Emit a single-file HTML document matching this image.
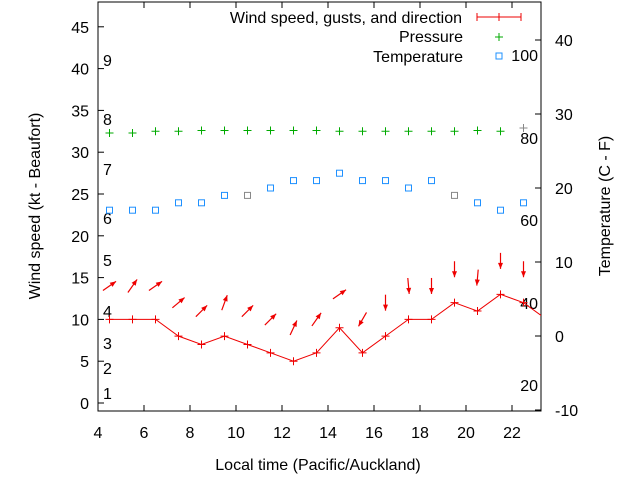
<!DOCTYPE html>
<html><head><meta charset="utf-8"><style>body{margin:0;background:#fff}svg{display:block;font-family:"Liberation Sans",sans-serif}</style></head>
<body>
<svg id="c" width="640" height="480" xmlns="http://www.w3.org/2000/svg"></svg>
<script>
const hours=[4.5,5.5,6.5,7.5,8.5,9.5,10.5,11.5,12.5,13.5,14.5,15.5,16.5,17.5,18.5,19.5,20.5,21.5,22.5,23.5];
const windKt=[10,10,10,8,7,8,7,6,5,6,9,6,8,10,10,12,11,13,12,10];
const gustKt=[14,14,14,12,11,12,11,10,9,10,13,10,12,14,14,16,15,17,16];
const heading=[55,35,55,50,45,20,45,45,25,35,55,210,180,175,180,180,185,180,180];
const tempC=[17,17,17,18,18,19,19,20,21,21,22,21,21,20,21,19,18,17,18];
const tempGray=[0,0,0,0,0,0,1,0,0,0,0,0,0,0,0,1,0,0,0];
const pressure=[32.3,32.3,32.5,32.5,32.6,32.6,32.6,32.6,32.6,32.6,32.5,32.5,32.5,32.5,32.5,32.5,32.6,32.5,32.9];
const pressGray=[0,0,0,0,0,0,0,0,0,0,0,0,0,0,0,0,0,0,1];
const xTicks=[4,6,8,10,12,14,16,18,20,22];
const yTicks=[0,5,10,15,20,25,30,35,40,45];
const y2Ticks=[-10,0,10,20,30,40];
const beaufort=[[1,393],[2,368],[3,343],[4,311],[5,260],[6,218],[7,169],[8,119],[9,60]];
const fahr=[[20,385],[40,303],[60,220],[80,138],[100,55]];
const L=98,R=541,T=2,B=411;
const X=h=>98+(h-4)*23, Y=v=>403-v*8.36, Y2=c=>336-c*7.4;
const s=document.getElementById('c');const NS='http://www.w3.org/2000/svg';
function el(t,a,p){const e=document.createElementNS(NS,t);for(const k in a)e.setAttribute(k,a[k]);(p||s).appendChild(e);return e;}
function tx(x,y,str,anchor,name,extra){const e=el('text',Object.assign({x:x,y:y,'font-size':16,fill:'#000','text-anchor':anchor||'start'},extra||{}));e.textContent=str;return e;}
const cp=el('clipPath',{id:'cp'});el('rect',{x:L,y:T,width:R-L,height:B-T},cp);
const frame=el('rect',{x:L,y:T,width:R-L,height:B-T,fill:'none',stroke:'#000'});

xTicks.forEach(v=>{const x=X(v);el('line',{x1:x,y1:B,x2:x,y2:B-6,stroke:'#000'});el('line',{x1:x,y1:T,x2:x,y2:T+6,stroke:'#000'});tx(x,438,String(v),'middle','x-tick-label');});
yTicks.forEach(v=>{const y=Y(v);el('line',{x1:L,y1:y,x2:L+6,y2:y,stroke:'#000'});tx(89,y+6,String(v),'end','y-tick-label');});
y2Ticks.forEach(v=>{const y=Y2(v);el('line',{x1:R,y1:y,x2:R-6,y2:y,stroke:'#000'});tx(555,y+6,String(v),'start','y2-tick-label');});
beaufort.forEach(b=>tx(103,b[1]+6,String(b[0]),'start','beaufort-label'));
fahr.forEach(f=>tx(538,f[1]+6,String(f[0]),'end','fahrenheit-label'));
tx(318,470,'Local time (Pacific/Auckland)','middle','x-axis-title');
tx(0,0,'Wind speed (kt - Beaufort)','middle','y-axis-title',{transform:'translate(40,206) rotate(-90)'});
tx(0,0,'Temperature (C - F)','middle','y2-axis-title',{transform:'translate(610,206) rotate(-90)'});
const g=el('g',{'clip-path':'url(#cp)'});
const pl=el('polyline',{points:hours.map((h,i)=>X(h)+','+Y(windKt[i])).join(' '),fill:'none',stroke:'#e00',"stroke-width":1},g);

hours.forEach((h,i)=>{const x=X(h),y=Y(windKt[i]);const p=el('path',{d:`M${x-4},${y}h8M${x},${y-4}v8`,stroke:'#e00'},g);});
gustKt.forEach((v,i)=>{const cx=X(hours[i]),cy=Y(v),a=heading[i]*Math.PI/180,dx=Math.sin(a),dy=-Math.cos(a),l=8;
const x1=cx-dx*l,y1=cy-dy*l,x2=cx+dx*l,y2=cy+dy*l;const px=-dy,py=dx;
const ar=el('g',{},g);
el('line',{x1:x1,y1:y1,x2:x2,y2:y2,stroke:'#e00','stroke-width':1.2},ar);
el('polygon',{points:`${x2},${y2} ${x2-dx*6+px*2.5},${y2-dy*6+py*2.5} ${x2-dx*6-px*2.5},${y2-dy*6-py*2.5}`,fill:'#e00'},ar);});
tempC.forEach((v,i)=>{const x=X(hours[i]),y=Y2(v);const r=el('rect',{x:x-3,y:y-3,width:6,height:6,fill:'none',stroke:tempGray[i]?'#888':'#1e90ff'},g);});
pressure.forEach((v,i)=>{const x=X(hours[i]),y=Y(v);const p=el('path',{d:`M${x-4},${y}h8M${x},${y-4}v8`,stroke:pressGray[i]?'#888':'#0a0'},g);});
tx(462,23,'Wind speed, gusts, and direction','end','legend-wind-label');
const lw=el('path',{d:'M477,17h44M477,13v8M521,13v8M499,13v8',stroke:'#e00'});
tx(463,42,'Pressure','end','legend-pressure-label');
const lp=el('path',{d:'M495,37h8M499,33v8',stroke:'#0a0'});
tx(463,62,'Temperature','end','legend-temperature-label');
const lt=el('rect',{x:496,y:53,width:6,height:6,fill:'none',stroke:'#1e90ff'});
</script>
</body></html>
